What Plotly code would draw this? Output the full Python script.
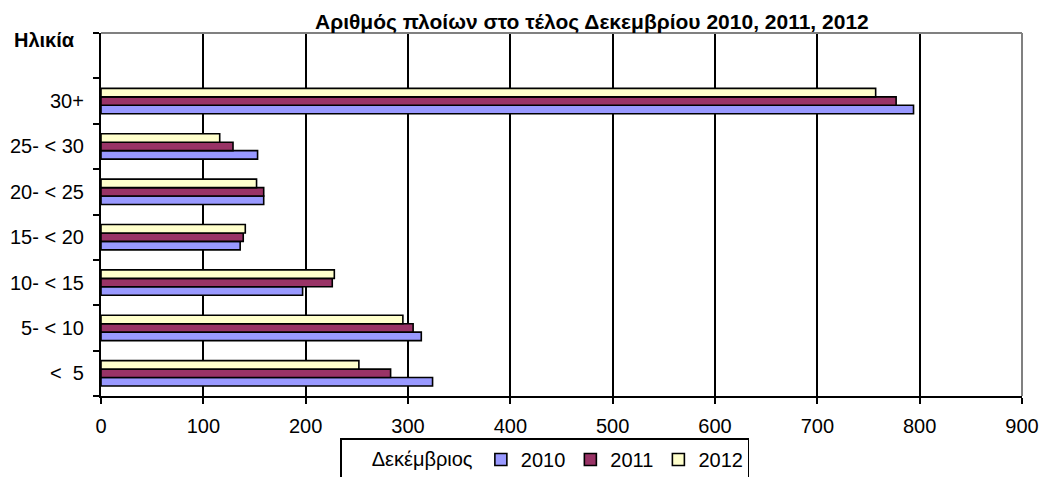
import plotly.graph_objects as go

categories = ["<  5", "5- < 10", "10- < 15", "15- < 20", "20- < 25", "25- < 30", "30+"]
years = ["2010", "2011", "2012"]
values_2010 = [324, 313, 197, 136, 159, 153, 794]
values_2011 = [283, 305, 226, 139, 159, 129, 777]
values_2012 = [252, 295, 228, 141, 152, 116, 757]
colors = ["#9999FF", "#993366", "#FFFFCC"]
x_ticks = [0, 100, 200, 300, 400, 500, 600, 700, 800, 900]

series = [values_2010, values_2011, values_2012]

fig = go.Figure()
for yr, vals, col in zip(years, series, colors):
    fig.add_trace(go.Bar(
        y=categories, x=vals, name=yr, orientation="h",
        marker=dict(color=col, line=dict(color="black", width=1.6)),
    ))

font_family = "Liberation Sans, Arial, sans-serif"

fig.update_layout(
    width=1042, height=477,
    margin=dict(l=101, r=20, t=33, b=81, autoexpand=False),
    paper_bgcolor="white", plot_bgcolor="white",
    barmode="group", bargap=0.44, bargroupgap=0,
    font=dict(family=font_family, size=20, color="black"),
    xaxis=dict(
        range=[0, 900], tickvals=x_ticks, showgrid=True, gridcolor="black", gridwidth=2,
        showline=True, linecolor="black", linewidth=2, ticks="outside", ticklen=6,
        tickwidth=2, tickcolor="black", zeroline=False, tickfont=dict(size=20),
        ticklabelstandoff=5,
    ),
    yaxis=dict(
        type="category", categoryorder="array", categoryarray=categories + [" "],
        range=[-0.5, 7.5], showline=True, linecolor="black", linewidth=2,
        ticks="outside", tickson="boundaries", ticklen=6, tickwidth=2, tickcolor="black",
        showgrid=False, tickfont=dict(size=20), ticksuffix="  ",
    ),
    legend=dict(
        orientation="h", x=0.482, xanchor="center", y=-0.117, yanchor="top",
        bordercolor="black", borderwidth=1.5, bgcolor="white",
        title=dict(text="\u00a0\u00a0\u00a0\u00a0\u00a0Δεκέμβριος", font=dict(size=20)),
        font=dict(size=20), traceorder="normal",
        itemwidth=30,
    ),
    showlegend=True,
)

fig.add_annotation(
    text="<b>Αριθμός πλοίων στο τέλος Δεκεμβρίου 2010, 2011, 2012</b>",
    xref="paper", yref="paper", x=(592 - 101) / 921, y=1.0, xanchor="center", yanchor="bottom",
    showarrow=False, font=dict(size=21, family=font_family), yshift=-3,
)
fig.add_annotation(
    text="<b>Ηλικία</b>",
    xref="paper", yref="paper", x=-(101 - 12) / 921, y=(396 - 40) / 363, xanchor="left", yanchor="middle",
    showarrow=False, font=dict(size=20, family=font_family),
)

fig.add_shape(type="line", xref="paper", yref="paper", x0=0, x1=1, y0=1, y1=1,
              line=dict(color="#808080", width=2), layer="above")
fig.add_shape(type="line", xref="paper", yref="paper", x0=1, x1=1, y0=0, y1=1,
              line=dict(color="#808080", width=2), layer="above")

fig.write_html("out.html", config={"displayModeBar": False},
               post_script="document.body.style.margin='0';")
